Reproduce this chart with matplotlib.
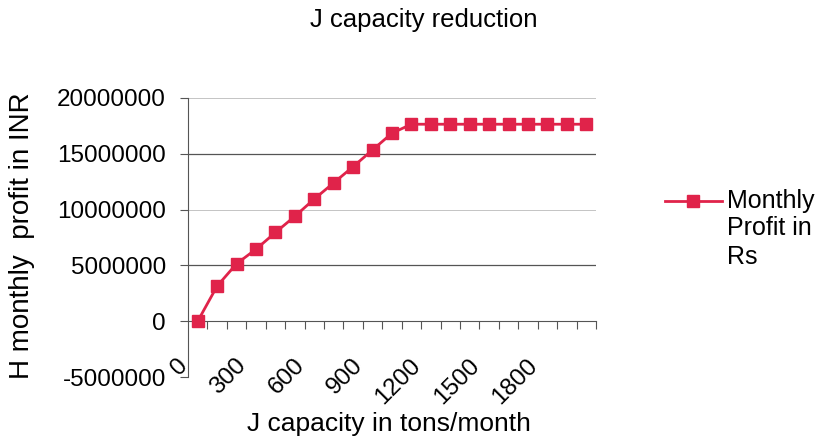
import matplotlib.pyplot as plt
from matplotlib.ticker import FixedLocator
from matplotlib.transforms import ScaledTranslation
from matplotlib.lines import Line2D

plt.rcParams['font.family'] = ['Liberation Sans', 'DejaVu Sans']

# capacidad de J en toneladas/mes y beneficio mensual
capacidad = [0, 100, 200, 300, 400, 500, 600, 700, 800, 900, 1000,
             1100, 1200, 1300, 1400, 1500, 1600, 1700, 1800, 1900, 2000]
beneficio = [0, 3150000, 5150000, 6450000, 7950000, 9400000, 10950000,
             12400000, 13850000, 15350000, 16850000, 17650000, 17650000,
             17650000, 17650000, 17650000, 17650000, 17650000, 17650000,
             17650000, 17650000]
marcas_y = [-5000000, 0, 5000000, 10000000, 15000000, 20000000]
paso_etiqueta = 3
nombre_serie = 'Monthly\nProfit in\nRs'

color = '#e0234a'
gris = '#555555'

fig = plt.figure(figsize=(8.25, 4.47), dpi=100)
ax = fig.add_axes([188 / 825, 1 - 377 / 447, (596 - 188) / 825, (377 - 98) / 447])

pos = list(range(len(capacidad)))
ax.plot(pos, beneficio, color=color, lw=2, marker='s', markersize=8,
        markeredgecolor=color, zorder=3)

ax.set_xlim(-0.5, len(capacidad) - 0.5)
ax.set_ylim(marcas_y[0], marcas_y[-1])
ax.set_yticks(marcas_y)
ax.set_yticklabels([str(v) for v in marcas_y], fontsize=17.5)
ax.tick_params(axis='y', direction='out', length=6, width=0.8, color=gris, pad=10)

for v in marcas_y:
    if v == 0:
        continue
    grueso = v in (5000000, 15000000)
    ax.axhline(v, color=gris if grueso else '#c4c4c4', lw=0.9 if grueso else 0.7, zorder=1)

# eje x cruzando en 0, marcas entre categorias
ax.spines['bottom'].set_position(('data', 0))
ax.spines['bottom'].set_color(gris)
ax.spines['left'].set_color(gris)
ax.spines['top'].set_visible(False)
ax.spines['right'].set_visible(False)

etiquetas = pos[::paso_etiqueta]
ax.set_xticks(etiquetas)
ax.set_xticklabels([str(capacidad[i]) for i in etiquetas], rotation=45,
                   ha='right', va='top', rotation_mode='anchor', fontsize=17.5)
ax.tick_params(axis='x', which='major', length=0, pad=24)
ax.xaxis.set_minor_locator(FixedLocator([p + 0.5 for p in pos]))
ax.tick_params(axis='x', which='minor', direction='out', length=6, width=0.8, color=gris)
desplazamiento = ScaledTranslation(-21 / 100, 0, fig.dpi_scale_trans)
for lab in ax.get_xticklabels():
    lab.set_transform(lab.get_transform() + desplazamiento)

fig.text(0.514, 0.955, 'J capacity reduction', ha='center', va='center', fontsize=18.5)
fig.text(0.472, 0.052, 'J capacity in tons/month', ha='center', va='center', fontsize=19)
fig.text(0.027, 1 - 236 / 447, 'H monthly  profit in INR', ha='center', va='center',
         rotation=90, fontsize=20)

# leyenda dibujada a mano para alinear el simbolo con la primera linea
fig.add_artist(Line2D([665 / 825, 722 / 825], [1 - 201 / 447, 1 - 201 / 447],
                      color=color, lw=2, transform=fig.transFigure))
fig.add_artist(Line2D([693 / 825], [1 - 201 / 447], color=color, marker='s',
                      markersize=8, transform=fig.transFigure))
fig.text(727 / 825, 1 - 201 / 447, nombre_serie.split('\n')[0], ha='left',
         va='center', fontsize=18)
fig.text(727 / 825, 1 - 216 / 447, '\n'.join(nombre_serie.split('\n')[1:]),
         ha='left', va='top', fontsize=18, linespacing=1.25)

fig.savefig('out.png', dpi=100)
